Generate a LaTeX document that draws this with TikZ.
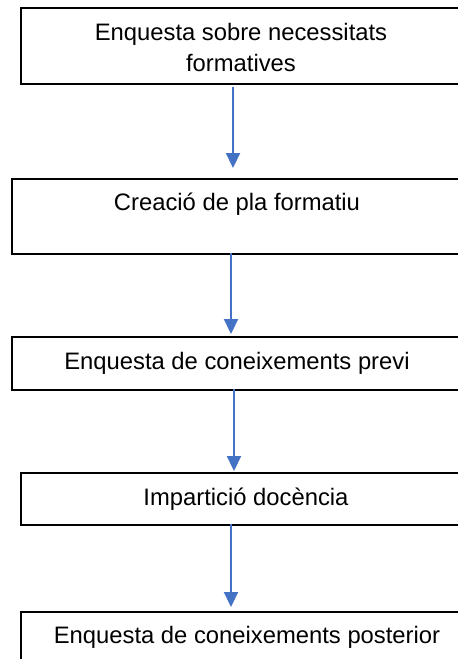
\documentclass[tikz,border=0pt]{standalone}
\usepackage{fontspec}
\setmainfont{Liberation Sans}
\usetikzlibrary{arrows.meta}
\definecolor{arrowblue}{HTML}{4472C4}
\begin{document}
\begin{tikzpicture}[x=1pt,y=-1pt,
  box/.style={draw=black,line width=2pt,rectangle,inner sep=0pt},
  lbl/.style={font=\fontsize{23.8}{31}\selectfont,inner sep=0pt,align=center,anchor=base},
  arr/.style={draw=arrowblue,line width=2.2pt,-{Triangle[length=15pt,width=14pt]}}]
\useasboundingbox (0,0) rectangle (458,659);
\begin{scope}
\clip (0,0) rectangle (458,659);
% boxes (right and lower parts fall outside the cropped picture)
\node[box,minimum width=480pt,minimum height=76pt,anchor=north west] (b1) at (20,7) {};
\node[box,minimum width=480pt,minimum height=75pt,anchor=north west] (b2) at (11,178) {};
\node[box,minimum width=480pt,minimum height=53pt,anchor=north west] (b3) at (11,336) {};
\node[box,minimum width=480pt,minimum height=52pt,anchor=north west] (b4) at (20,472) {};
\node[box,minimum width=480pt,minimum height=80pt,anchor=north west] (b5) at (20,611) {};
\end{scope}
% texts
\node[lbl] (t1a) at (241,40.5) {Enquesta sobre necessitats};
\node[lbl] (t1b) at (241,71.5) {formatives};
\node[lbl] (t2) at (237,210.5) {Creació de pla formatiu};
\node[lbl] (t3) at (237,369) {Enquesta de coneixements previ};
\node[lbl] (t4) at (246,505) {Impartició docència};
\node[lbl] (t5) at (247,643) {Enquesta de coneixements posterior};
% arrows
\coordinate (a1s) at (233,87); \coordinate (a1e) at (233,168);
\coordinate (a2s) at (231,253); \coordinate (a2e) at (231,334);
\coordinate (a3s) at (234,389); \coordinate (a3e) at (234,471);
\coordinate (a4s) at (231,524); \coordinate (a4e) at (231,607);
\draw[arr] (a1s) -- (a1e);
\draw[arr] (a2s) -- (a2e);
\draw[arr] (a3s) -- (a3e);
\draw[arr] (a4s) -- (a4e);
\end{tikzpicture}
\end{document}
